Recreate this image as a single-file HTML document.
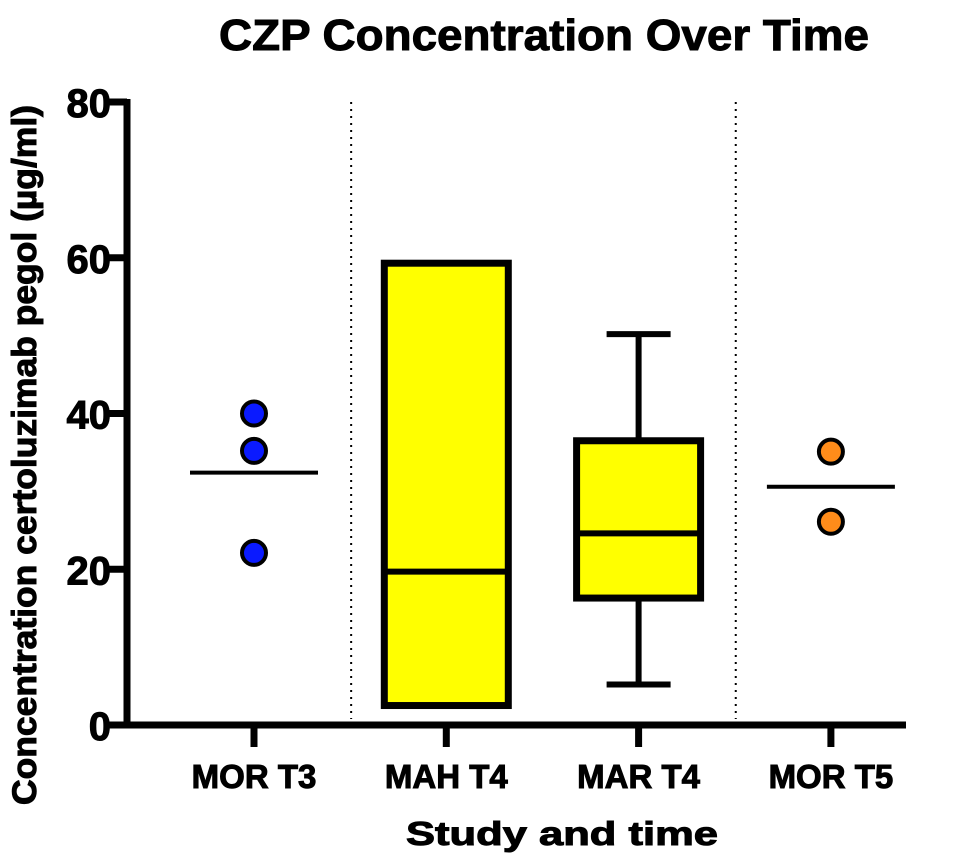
<!DOCTYPE html>
<html><head><meta charset="utf-8"><style>
body{margin:0;background:#fff;}
svg text{font-family:"Liberation Sans",Arial,sans-serif;font-weight:bold;fill:#000;stroke:#000;stroke-width:1;}
</style></head><body>
<svg id="chart" width="970" height="856" viewBox="0 0 970 856">
<text x="544" y="50" font-size="44" text-anchor="middle" textLength="650" lengthAdjust="spacingAndGlyphs">CZP Concentration Over Time</text>
<text x="562" y="845" font-size="33" text-anchor="middle" textLength="312" lengthAdjust="spacingAndGlyphs">Study and time</text>
<text transform="translate(36,455) rotate(-90)" font-size="34" text-anchor="middle" textLength="700" lengthAdjust="spacingAndGlyphs">Concentration certoluzimab pegol (µg/ml)</text>
<g id="marks"></g>
</svg>
<script>
const categories=["MOR T3","MAH T4","MAR T4","MOR T5"];
const yTicks=[0,20,40,60,80];
const morT3Points=[40,35.2,22.1];
const morT3Mean=[32.4];
const morT5Points=[35.1,26.1];
const morT5Mean=[30.6];
const boxMins=[null,2.5,5.2,null];
const boxQ1=[null,2.5,16.3,null];
const boxMedians=[null,19.7,24.6,null];
const boxQ3=[null,59.3,36.5,null];
const boxMaxs=[null,59.3,50.2,null];
const dividers=[0.5,2.5];

const NS="http://www.w3.org/2000/svg";
const g=document.getElementById('marks');
const y0=725,yScale=(623/80);
const Y=v=>y0-v*yScale;
const X=i=>254+i*192.3;
function mk(tag,a){const e=document.createElementNS(NS,tag);for(const k in a)e.setAttribute(k,a[k]);g.appendChild(e);return e;}

let e=mk('line',{x1:127,y1:99,x2:127,y2:728,stroke:'#000','stroke-width':7});


e=mk('line',{x1:104,y1:725,x2:906,y2:725,stroke:'#000','stroke-width':7});


yTicks.forEach(t=>{
 let l=mk('line',{x1:104,y1:Y(t),x2:127,y2:Y(t),stroke:'#000','stroke-width':7});
 
 
 let tx=mk('text',{x:111,y:Y(t)+15,'font-size':40,'text-anchor':'end'});tx.textContent=t;
 
 
});
categories.forEach((c,i)=>{
 let l=mk('line',{x1:X(i),y1:725,x2:X(i),y2:747,stroke:'#000','stroke-width':7});
 
 
 let tx=mk('text',{x:X(i),y:788,'font-size':33,'text-anchor':'middle'});tx.textContent=c;
 
 
});
dividers.forEach(d=>{
 let l=mk('line',{x1:X(d)+1,y1:102,x2:X(d)+1,y2:719,stroke:'#000','stroke-width':2,'stroke-dasharray':'2,5'});
 
 
});
categories.forEach((c,i)=>{
 if(boxQ1[i]==null)return;
 const cx=X(i),hw=62;
 if(boxMaxs[i]>boxQ3[i]){
  let w=mk('line',{x1:cx,y1:Y(boxMaxs[i]),x2:cx,y2:Y(boxQ3[i]),stroke:'#000','stroke-width':6});
  
  
  let cp=mk('line',{x1:cx-32,y1:Y(boxMaxs[i]),x2:cx+32,y2:Y(boxMaxs[i]),stroke:'#000','stroke-width':6});
  
  
 }
 if(boxMins[i]<boxQ1[i]){
  let w=mk('line',{x1:cx,y1:Y(boxQ1[i]),x2:cx,y2:Y(boxMins[i]),stroke:'#000','stroke-width':6});
  
  
  let cp=mk('line',{x1:cx-32,y1:Y(boxMins[i]),x2:cx+32,y2:Y(boxMins[i]),stroke:'#000','stroke-width':6});
  
  
 }
 let r=mk('rect',{x:cx-hw,y:Y(boxQ3[i]),width:hw*2,height:Y(boxQ1[i])-Y(boxQ3[i]),fill:'#ffff00',stroke:'#000','stroke-width':7});
 
 
 let m=mk('line',{x1:cx-hw,y1:Y(boxMedians[i]),x2:cx+hw,y2:Y(boxMedians[i]),stroke:'#000','stroke-width':6});
 
 
});
function pts(i,arr,mean,color){
 let l=mk('line',{x1:X(i)-64,y1:Y(mean[0]),x2:X(i)+64,y2:Y(mean[0]),stroke:'#000','stroke-width':4});
 
 
 arr.forEach(v=>{
  let c=mk('circle',{cx:X(i),cy:Y(v),r:12,fill:color,stroke:'#000','stroke-width':4});
  
  
 });
}
pts(0,morT3Points,morT3Mean,'#0a1aff');
pts(3,morT5Points,morT5Mean,'#ff8c1a');
</script>
</body></html>
